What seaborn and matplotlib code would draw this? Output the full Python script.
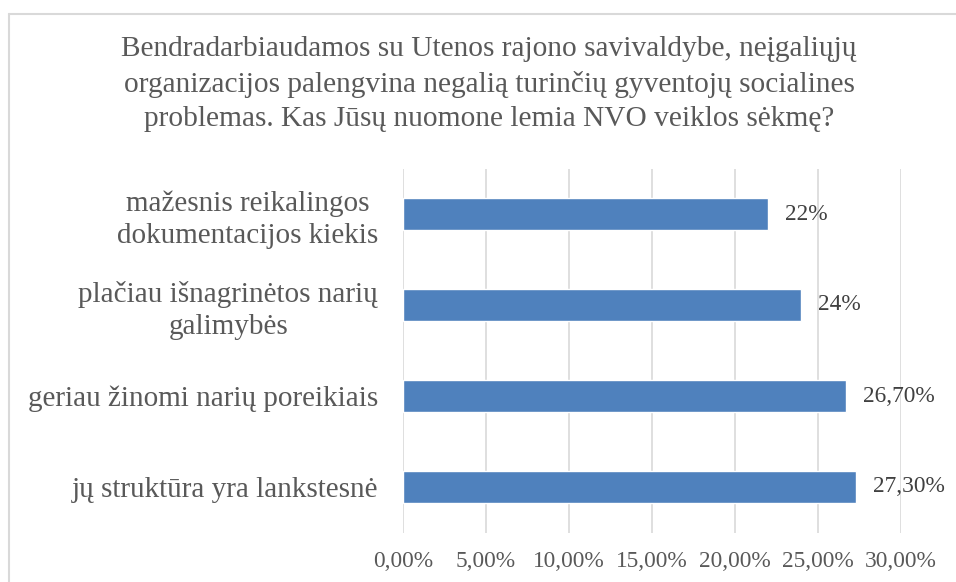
import matplotlib
matplotlib.use("Agg")
import matplotlib.pyplot as plt
import seaborn as sns
import pandas as pd
from matplotlib.lines import Line2D

categories = [
    "mažesnis reikalingos\ndokumentacijos kiekis",
    "plačiau išnagrinėtos narių\ngalimybės",
    "geriau žinomi narių poreikiais",
    "jų struktūra yra lankstesnė",
]
values = [22.0, 24.0, 26.7, 27.3]
value_labels = ["22%", "24%", "26,70%", "27,30%"]
tick_values = [0, 5, 10, 15, 20, 25, 30]
tick_labels = ["0,00%", "5,00%", "10,00%", "15,00%", "20,00%", "25,00%", "30,00%"]
title = ("Bendradarbiaudamos su Utenos rajono savivaldybe, neįgaliųjų\n"
         "organizacijos palengvina negalią turinčių gyventojų socialines\n"
         "problemas. Kas Jūsų nuomone lemia NVO veiklos sėkmę?")

sns.set_theme(style="white")
plt.rcParams["font.family"] = ["Liberation Serif", "DejaVu Serif"]

df = pd.DataFrame({"cat": categories, "val": values})

W, H = 956, 582
fig = plt.figure(figsize=(W / 100, H / 100), dpi=100)
ax = fig.add_axes([403 / W, 1 - 532.5 / H, (901 - 403) / W, (532.5 - 168.5) / H])

sns.barplot(data=df, y="cat", x="val", orient="h", color="#4F81BD",
            saturation=1, width=0.35, ax=ax)

ax.set_xlim(0, 30)
ax.set_xticks(tick_values)
ax.set_xticklabels(tick_labels, fontsize=16.8, color="#595959")
ax.tick_params(axis="x", length=0, pad=13)
ax.tick_params(axis="y", length=0, pad=18)
ax.set_yticks(range(len(categories)))
ax.set_yticklabels(categories, fontsize=21, color="#595959",
                   multialignment="center", linespacing=1.3)
ax.set_xlabel("")
ax.set_ylabel("")
ax.grid(axis="x", color="#D9D9D9", linewidth=1.2)
ax.set_axisbelow(True)
for s in ax.spines.values():
    s.set_visible(False)

for i, (v, lab) in enumerate(zip(values, value_labels)):
    ax.text(v + 1.0, i, lab, va="center", ha="left", fontsize=16.8,
            color="#404040")

fig.text(489 / W, 1 - 84 / H, title, ha="center", va="center",
         fontsize=21.2, color="#595959", linespacing=1.4)

# outer chart border (left and top visible)
fig.add_artist(Line2D([8.5 / W, 8.5 / W], [0, 1 - 13.5 / H],
                      transform=fig.transFigure, color="#D9D9D9", lw=1.5))
fig.add_artist(Line2D([8.5 / W, 1], [1 - 13.5 / H, 1 - 13.5 / H],
                      transform=fig.transFigure, color="#D9D9D9", lw=1.5))

fig.savefig("out.png", dpi=100)
